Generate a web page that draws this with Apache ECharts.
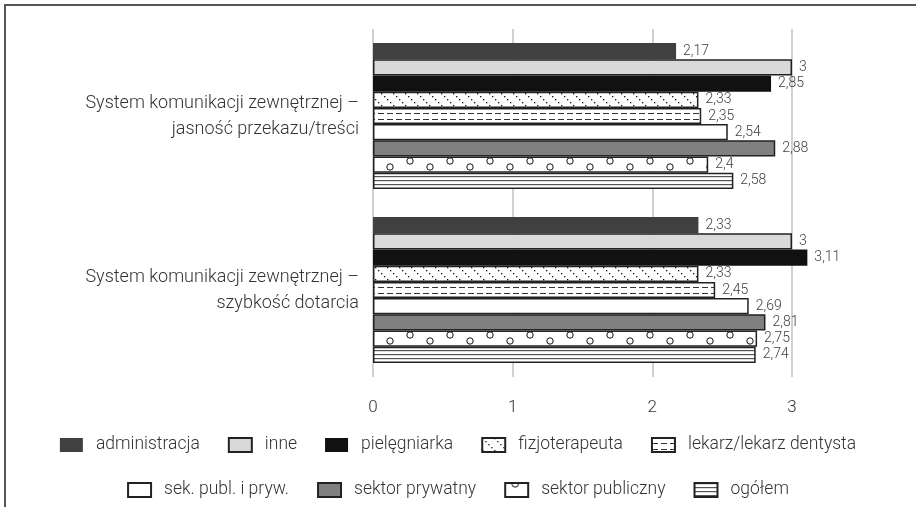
<!DOCTYPE html>
<html>
<head>
<meta charset="utf-8">
<script src="https://cdn.jsdelivr.net/npm/echarts@6/dist/echarts.min.js"></script>
<style>
html,body{margin:0;padding:0;background:#fff;}
#chart{width:916px;height:507px;}
</style>
</head>
<body>
<div id="chart"></div>
<script>
// ---- data ----
var categories = [
  'System komunikacji zewnętrznej –\njasność przekazu/treści',
  'System komunikacji zewnętrznej –\nszybkość dotarcia'
];
var seriesNames = ['administracja','inne','pielęgniarka','fizjoterapeuta','lekarz/lekarz dentysta',
  'sek. publ. i pryw.','sektor prywatny','sektor publiczny','ogółem'];
var administracja = [2.17, 2.33];
var inne = [3, 3];
var pielegniarka = [2.85, 3.11];
var fizjoterapeuta = [2.33, 2.33];
var lekarz = [2.35, 2.45];
var sekPublPryw = [2.54, 2.69];
var sektorPrywatny = [2.88, 2.81];
var sektorPubliczny = [2.4, 2.75];
var ogolem = [2.58, 2.74];
var xTicks = [0, 1, 2, 3];

// ---- patterns (styling only) ----
function mk(w, h, draw) {
  var c = document.createElement('canvas');
  c.width = w; c.height = h;
  var ctx = c.getContext('2d');
  ctx.fillStyle = '#fff'; ctx.fillRect(0, 0, w, h);
  draw(ctx, w, h);
  return { image: c, repeat: 'repeat' };
}
function patFizjo() {
  return mk(12, 12, function (ctx) {
    ctx.fillStyle = '#111';
    for (var i = 0; i < 12; i += 3) { ctx.fillRect(i, i, 1.3, 1.3); }
  });
}
function patLekarz() {
  return mk(9, 6, function (ctx) {
    ctx.fillStyle = '#333';
    ctx.fillRect(0, 5, 6, 1);
  });
}
function patPubl(oy) {
  return mk(40, 16, function (ctx, w, h) {
    ctx.strokeStyle = '#111'; ctx.lineWidth = 1;
    var pts = [[10, 5], [30, 11]];
    pts.forEach(function (p) {
      [-h, 0, h].forEach(function (d) {
        ctx.beginPath(); ctx.arc(p[0], ((p[1] + oy) % h) + d, 3.2, 0, Math.PI * 2); ctx.stroke();
      });
    });
  });
}
function patOgolem(oy) {
  return mk(4, 4, function (ctx) {
    ctx.fillStyle = '#555';
    ctx.fillRect(0, oy, 4, 1.2);
  });
}

var bordered = { borderColor: '#222', borderWidth: 1.5 };
var styles = [
  [{ color: '#404040', borderWidth: 0 }],
  [Object.assign({ color: '#d9d9d9' }, bordered)],
  [{ color: '#111111', borderWidth: 0 }],
  [Object.assign({ color: patFizjo() }, bordered)],
  [Object.assign({ color: patLekarz() }, bordered)],
  [Object.assign({ color: '#ffffff' }, bordered)],
  [Object.assign({ color: '#808080' }, bordered)],
  [Object.assign({ color: patPubl(12) }, bordered), Object.assign({ color: patPubl(12) }, bordered), Object.assign({ color: patPubl(10) }, bordered)],
  [Object.assign({ color: patOgolem(0) }, bordered), Object.assign({ color: patOgolem(0) }, bordered), Object.assign({ color: patOgolem(2) }, bordered)]
];
var values = [administracja, inne, pielegniarka, fizjoterapeuta, lekarz, sekPublPryw, sektorPrywatny, sektorPubliczny, ogolem];

var FONT = 'Roboto';
var series = seriesNames.map(function (n, i) {
  var st = styles[i];
  return {
    name: n,
    type: 'bar',
    data: values[i].map(function (v, k) {
      return st.length > 1 ? { value: v, itemStyle: st[k + 1] } : v;
    }),
    barGap: '0%',
    barCategoryGap: '16%',
    clip: false,
    itemStyle: st[0],
    label: {
      show: true, position: 'right', distance: 7,
      color: '#404040', fontSize: 14, fontFamily: FONT, fontWeight: 300,
      formatter: function (p) { return String(p.value).replace('.', ','); }
    }
  };
});

var chart = echarts.init(document.getElementById('chart'));
var legendCommon = {
  orient: 'horizontal', left: 'center', itemWidth: 23, itemHeight: 14, itemGap: 28,
  icon: 'rect',
  textStyle: { fontSize: 17.5, color: '#333', fontFamily: FONT, fontWeight: 300, padding: [0, 0, 0, 8] }
};
chart.setOption({
  animation: false,
  backgroundColor: '#fff',
  textStyle: { fontFamily: FONT },
  grid: { left: 373, right: 124, top: 29, bottom: 130, containLabel: false },
  xAxis: {
    type: 'value', min: 0, max: 3, interval: 1,
    axisLine: { show: false }, axisTick: { show: false },
    splitLine: { show: true, lineStyle: { color: '#d0d0d0', width: 2 } },
    axisLabel: { fontSize: 17, color: '#333', margin: 22, fontFamily: FONT, fontWeight: 300,
      formatter: function (v) { return xTicks.indexOf(v) >= 0 ? String(v) : ''; } }
  },
  yAxis: {
    type: 'category', data: categories, inverse: true,
    axisLine: { show: false }, axisTick: { show: false },
    axisLabel: { fontSize: 18, color: '#333', lineHeight: 26, margin: 14, align: 'right', fontFamily: FONT, fontWeight: 300 }
  },
  legend: [
    Object.assign({ top: 431, data: seriesNames.slice(0, 5) }, legendCommon),
    Object.assign({ top: 476, data: seriesNames.slice(5) }, legendCommon)
  ],
  graphic: [
    { type: 'line', shape: { x1: 4, y1: 5, x2: 916, y2: 5 }, style: { stroke: '#555', lineWidth: 2 } },
    { type: 'line', shape: { x1: 5, y1: 5, x2: 5, y2: 507 }, style: { stroke: '#555', lineWidth: 2 } }
  ],
  series: series
});
</script>
</body>
</html>
